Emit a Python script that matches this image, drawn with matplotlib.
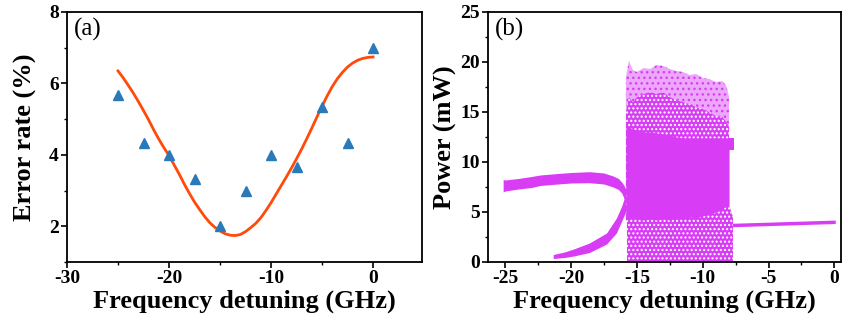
import matplotlib
matplotlib.use("Agg")
import matplotlib.pyplot as plt
from matplotlib.ticker import MultipleLocator

plt.rcParams['font.family'] = ['Liberation Serif', 'DejaVu Serif']
plt.rcParams['axes.unicode_minus'] = False
plt.rcParams['hatch.linewidth'] = 1.0

# ---- panel (a): error rate vs detuning ----
det_pts = [-25, -22.5, -20, -17.5, -15, -12.5, -10, -7.5, -5, -2.5, 0]
err_pts = [5.67, 4.33, 4.0, 3.33, 2.0, 3.0, 4.0, 3.67, 5.33, 4.33, 7.0]

# fitted curve, every 0.5 GHz
fit_x = [-25, -24.5, -24, -23.5, -23, -22.5, -22, -21.5, -21, -20.5, -20, -19.5, -19, -18.5,
         -18, -17.5, -17, -16.5, -16, -15.5, -15, -14.5, -14, -13.5, -13, -12.5, -12, -11.5,
         -11, -10.5, -10, -9.5, -9, -8.5, -8, -7.5, -7, -6.5, -6, -5.5, -5, -4.5, -4, -3.5,
         -3, -2.5, -2, -1.5, -1, -0.5, 0]
fit_y = [6.35, 6.16, 5.95, 5.73, 5.49, 5.24, 4.98, 4.70, 4.44, 4.20, 3.98, 3.72, 3.46, 3.18,
         2.92, 2.68, 2.47, 2.27, 2.10, 1.97, 1.87, 1.79, 1.75, 1.74, 1.77, 1.85, 1.96, 2.08,
         2.24, 2.44, 2.66, 2.90, 3.14, 3.38, 3.63, 3.89, 4.16, 4.45, 4.75, 5.06, 5.36, 5.65, 5.91, 6.13,
         6.31, 6.46, 6.57, 6.65, 6.70, 6.73, 6.74]

# ---- panel (b): power vs detuning (envelopes) ----
up_x = [-25.15, -25.0, -24.0, -23.0, -22.35, -21.0, -20.0, -18.6, -17.5, -16.8, -16.4, -16.15, -15.95, -15.85]
up_hi = [8.25, 8.2, 8.35, 8.55, 8.7, 8.85, 8.95, 9.03, 8.9, 8.6, 8.35, 8.0, 7.6, 7.3]
up_lo = [7.0, 7.1, 7.3, 7.45, 7.65, 7.8, 7.9, 7.93, 7.8, 7.5, 7.25, 6.9, 6.3, 5.8]

low_x = [-21.35, -20.5, -19.8, -18.6, -17.3, -16.55, -16.15, -15.85]
low_hi = [0.75, 1.0, 1.3, 1.9, 2.9, 4.4, 5.6, 6.8]
low_lo = [0.35, 0.45, 0.6, 0.95, 1.8, 2.9, 4.1, 5.0]

chaos_x = [-15.83, -15.6, -15.3, -15.0, -14.5, -14.0, -13.5, -13.0, -12.5, -12.0,
           -11.5, -11.0, -10.5, -10.0, -9.5, -9.0, -8.5, -8.2, -8.0]
dense_lo = [4.2, 4.3, 4.4, 4.3, 4.2, 4.3, 4.2, 4.3, 4.2, 4.4,
            4.3, 4.5, 4.4, 4.6, 4.8, 5.0, 5.3, 5.6, 5.7]
dense_hi = [13.5, 13.5, 13.3, 13.2, 13.0, 13.0, 12.9, 12.8, 12.7, 12.5,
            12.4, 12.4, 12.4, 12.4, 12.4, 12.4, 12.4, 12.4, 12.4]
mid_hi = [15.0, 16.5, 16.0, 16.5, 16.8, 17.0, 16.8, 17.0, 16.5, 16.2,
          16.0, 15.8, 15.5, 15.3, 15.0, 14.6, 14.5, 14.0, 13.5]
top_hi = [18.5, 20.1, 19.2, 19.0, 19.4, 19.3, 19.7, 19.6, 19.3, 19.1,
          19.0, 18.7, 18.8, 18.4, 18.3, 18.0, 18.1, 17.6, 16.5]

lowc_x = [-15.75, -15.3, -15.0, -14.5, -14.0, -13.5, -13.0, -12.5, -12.0, -11.5,
          -11.0, -10.5, -10.0, -9.5, -9.0, -8.5, -8.2, -8.0, -7.7]
lowc_hi = [4.3, 4.4, 4.3, 4.2, 4.3, 4.2, 4.3, 4.2, 4.4, 4.3,
           4.5, 4.4, 4.6, 4.8, 5.0, 5.3, 5.6, 5.7, 4.5]

bump_x = [-8.05, -7.6]
bump_lo = [11.2, 11.2]
bump_hi = [12.4, 12.4]

p1_x = [-7.7, 0.1]
p1_y = [3.65, 3.97]

MAG = '#D83CF5'

fig = plt.figure(figsize=(8.42, 3.22), dpi=100)
ax1 = fig.add_axes([67/842, 60/322, 355/842, 250/322])
ax2 = fig.add_axes([488/842, 60/322, 353/842, 250/322])

ax1.plot(fit_x, fit_y, color='#FF4A0A', lw=2.0, zorder=2)
ax1.plot(det_pts, err_pts, ls='none', marker='^', ms=7.5, color='#2A79B9', zorder=3)
ax1.set_xlim(-30, 4.8)
ax1.set_ylim(1, 8)
ax1.xaxis.set_major_locator(MultipleLocator(10))
ax1.xaxis.set_minor_locator(MultipleLocator(5))
ax1.yaxis.set_major_locator(MultipleLocator(2))
ax1.yaxis.set_minor_locator(MultipleLocator(1))
ax1.set_ylabel('Error rate (%)', fontsize=19, fontweight='bold')
ax1.yaxis.set_label_coords(-0.085, 0.5)
ax1.text(0.02, 0.975, '(a)', transform=ax1.transAxes, fontsize=18, va='top', ha='left')

# sparse top of the chaotic region
ax2.fill_between(chaos_x, mid_hi, top_hi, facecolor=MAG, alpha=0.45, lw=0)
ax2.fill_between(chaos_x, mid_hi, top_hi, facecolor='none', edgecolor=MAG, hatch='...', lw=0)
# speckled parts, drawn under the solid core so no seam shows
ax2.fill_between(chaos_x, dense_lo, mid_hi, facecolor=MAG, edgecolor='white', hatch='....', lw=0)
ax2.fill_between(lowc_x, 0, lowc_hi, facecolor=MAG, edgecolor='white', hatch='....', lw=0)
ax2.fill_between(chaos_x, dense_lo, dense_hi, color=MAG, lw=0)
ax2.fill_between(bump_x, bump_lo, bump_hi, color=MAG, lw=0)
ax2.fill_between(up_x, up_lo, up_hi, color=MAG, lw=0)
ax2.fill_between(low_x, low_lo, low_hi, color=MAG, lw=0)
ax2.plot(p1_x, p1_y, color=MAG, lw=2.5, solid_capstyle='butt')
ax2.set_xlim(-26.3, 0.5)
ax2.set_ylim(0, 25)
ax2.xaxis.set_major_locator(MultipleLocator(5))
ax2.xaxis.set_minor_locator(MultipleLocator(2.5))
ax2.yaxis.set_major_locator(MultipleLocator(5))
ax2.yaxis.set_minor_locator(MultipleLocator(2.5))
ax2.set_ylabel('Power (mW)', fontsize=19, fontweight='bold')
ax2.yaxis.set_label_coords(-0.088, 0.5)
ax2.text(0.02, 0.975, '(b)', transform=ax2.transAxes, fontsize=18, va='top', ha='left')

for ax in (ax1, ax2):
    ax.set_xlabel('Frequency detuning (GHz)', fontsize=19, fontweight='bold')
    ax.xaxis.set_label_coords(0.5, -0.11)
    ax.tick_params(which='major', direction='out', length=4, width=1.2, labelsize=14, pad=2)
    ax.tick_params(which='minor', direction='out', length=2.5, width=1.0)
    for lab in ax.get_xticklabels() + ax.get_yticklabels():
        lab.set_fontweight('bold')
    for sp in ax.spines.values():
        sp.set_linewidth(1.3)

fig.savefig('out.png', dpi=100)
